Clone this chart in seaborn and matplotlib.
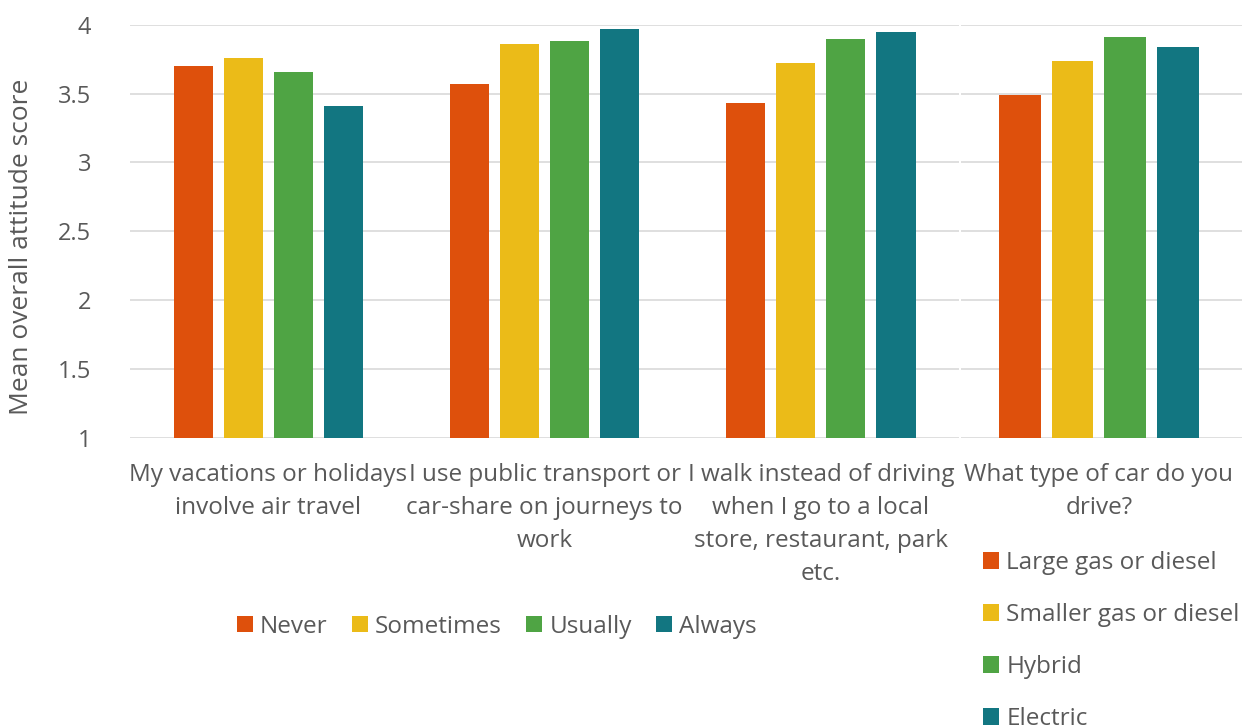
import pandas as pd
import matplotlib.pyplot as plt
import seaborn as sns

# behaviour questions (left panel) and car type (right panel)
questions = [
    "My vacations or holidays\ninvolve air travel",
    "I use public transport or\ncar-share on journeys to\nwork",
    "I walk instead of driving\nwhen I go to a local\nstore, restaurant, park\netc.",
]
frequency = ["Never", "Sometimes", "Usually", "Always"]
never = [3.70, 3.57, 3.43]
sometimes = [3.76, 3.86, 3.72]
usually = [3.66, 3.88, 3.90]
always = [3.41, 3.97, 3.95]

car_question = ["What type of car do you\ndrive?"]
car_types = ["Large gas or diesel", "Smaller gas or diesel", "Hybrid", "Electric"]
car_scores = [3.49, 3.74, 3.91, 3.84]

colors = ["#DE500C", "#EBBB18", "#4FA444", "#127681"]
text_grey = "#595959"
grid_grey = "#D9D9D9"


def main():
    rows = []
    for series, vals in zip(frequency, [never, sometimes, usually, always]):
        for q, v in zip(questions, vals):
            rows.append({"question": q, "response": series, "score": v})
    df = pd.DataFrame(rows)

    car_df = pd.DataFrame({
        "question": car_question * len(car_types),
        "response": car_types,
        "score": car_scores,
    })

    sns.set_style("white")
    plt.rcParams["font.family"] = ["Open Sans", "DejaVu Sans"]
    plt.rcParams["text.color"] = text_grey
    plt.rcParams["axes.labelcolor"] = text_grey
    plt.rcParams["xtick.color"] = text_grey
    plt.rcParams["ytick.color"] = text_grey

    fig = plt.figure(figsize=(12.42, 7.28), dpi=100)
    ax1 = fig.add_axes([0.1047, 0.399, 0.6675, 0.567])
    ax2 = fig.add_axes([0.7738, 0.399, 0.2262, 0.567])

    sns.barplot(data=df, x="question", y="score", hue="response",
                palette=colors, saturation=1, width=0.725, gap=0.22,
                linewidth=0, ax=ax1)
    sns.barplot(data=car_df, x="question", y="score", hue="response",
                palette=colors, saturation=1, width=0.75, gap=0.21,
                linewidth=0, ax=ax2)

    fs = 17.5
    for ax in (ax1, ax2):
        ax.set_ylim(1, 4)
        ax.set_yticks([1, 1.5, 2, 2.5, 3, 3.5, 4])
        ax.yaxis.grid(True, color=grid_grey, linewidth=1.2)
        ax.set_axisbelow(True)
        sns.despine(ax=ax, left=True, bottom=True)
        ax.tick_params(axis="both", length=0, labelsize=fs)
        ax.set_xlabel("")
        for lbl in ax.get_xticklabels():
            lbl.set_linespacing(1.5)
    ax1.set_xlim(-0.5, 2.5)
    ax2.set_xlim(-0.49, 0.51)
    ax1.set_yticklabels(["1", "1.5", "2", "2.5", "3", "3.5", "4"])
    ax1.tick_params(axis="y", pad=28, labelsize=17)
    ax1.tick_params(axis="x", pad=18)
    ax2.tick_params(axis="x", pad=18)
    ax2.set_yticklabels([])
    ax2.set_ylabel("")
    ax1.set_ylabel("Mean overall attitude score", fontsize=19)
    ax1.yaxis.set_label_coords(-0.116, 0.461)

    h1, l1 = ax1.get_legend_handles_labels()
    ax1.get_legend().remove()
    fig.legend(h1, l1, loc="center", bbox_to_anchor=(0.400, 0.139), ncol=4,
               frameon=False, fontsize=fs, handlelength=0.65, handleheight=0.65,
               handletextpad=0.3, columnspacing=1.0)

    h2, l2 = ax2.get_legend_handles_labels()
    ax2.get_legend().remove()
    fig.legend(h2, l2, loc="upper left", bbox_to_anchor=(0.774, 0.273),
               frameon=False, fontsize=fs, handlelength=0.65, handleheight=0.65,
               handletextpad=0.3, labelspacing=1.15)

    fig.savefig("out.png", dpi=100)


if __name__ == "__main__":
    main()
